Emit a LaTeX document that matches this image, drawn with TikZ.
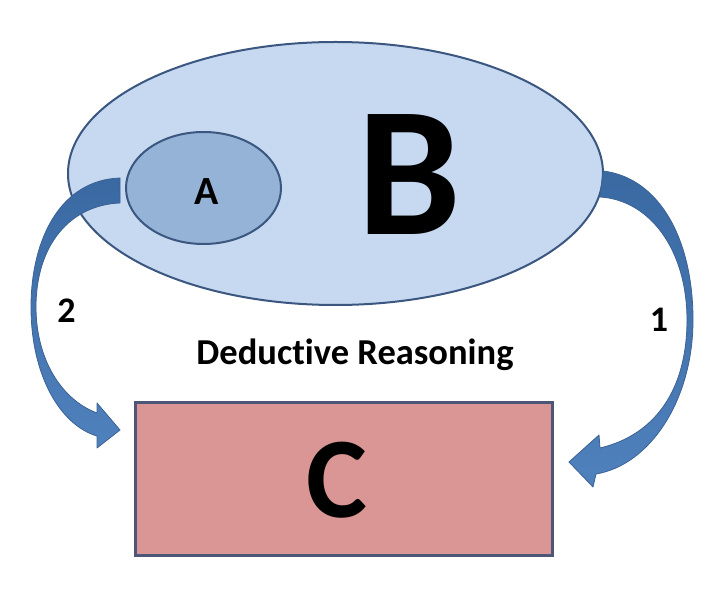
\documentclass[tikz,border=0pt]{standalone}
\usepackage{fontspec}
\setmainfont{Carlito}[Ligatures=NoCommon]
\usetikzlibrary{shapes.geometric}
\definecolor{bfill}{HTML}{C6D9F1}
\definecolor{afill}{HTML}{95B3D7}
\definecolor{edgeblue}{HTML}{3B5780}
\definecolor{cfill}{HTML}{D99694}
\definecolor{cedge}{HTML}{4C5676}
\definecolor{arrdark}{HTML}{3A69A2}
\definecolor{arrlight}{HTML}{4F81BD}
\definecolor{arredge}{HTML}{3B6294}
\begin{document}
\begin{tikzpicture}[x=1pt,y=-1pt,
  blob/.style={ellipse, draw=edgeblue, line width=2pt, inner sep=0pt},
  letter/.style={inner sep=0pt, anchor=base, font=\bfseries\fontsize{#1}{#1}\selectfont},
  bent/.style={draw=arredge, line width=0.8pt, line join=round, top color=arrdark, bottom color=arrlight}]
\useasboundingbox (0,0) rectangle (718,601);
\fill[white] (0,0) rectangle (718,601);
% ellipses
\node[blob, fill=bfill, minimum width=535pt, minimum height=263pt] (Bell) at (335.5,173.5) {};
\node[blob, fill=afill, minimum width=155pt, minimum height=112pt] (Aell) at (203.5,188) {};
% left curved arrow (2)
\path[bent] (120,178) .. controls (60,180) and (31,240) .. (31,307)
  .. controls (31,375) and (60,425) .. (97,436) -- (97,448) -- (120,430) -- (97,403) -- (97,413)
  .. controls (62,400) and (36,360) .. (36,307)
  .. controls (36,245) and (70,205) .. (120,203) -- cycle;
% right curved arrow (1)
\path[bent] (603,171) .. controls (660,178) and (693,240) .. (693,320)
  .. controls (693,400) and (650,465) .. (596,474) -- (593,487) -- (569,462) -- (599,435) -- (600,448)
  .. controls (655,435) and (687,390) .. (687,320)
  .. controls (687,250) and (650,200) .. (600,197) -- cycle;
% box C
\node[draw=cedge, fill=cfill, line width=3pt, minimum width=417pt, minimum height=152pt, inner sep=0pt] (Cbox) at (343.5,479) {};
% texts
\node[letter=185] (Blet) at (409,235) {B};
\node[letter=40] (Alet) at (207,205) {A};
\node[letter=115] (Clet) at (337,518) {C};
\node[letter=36.5] (ded) at (355,365) {Deductive Reasoning};
\node[letter=36] (two) at (66.5,323) {2};
\node[letter=36] (one) at (659,332) {1};
\end{tikzpicture}
\end{document}
